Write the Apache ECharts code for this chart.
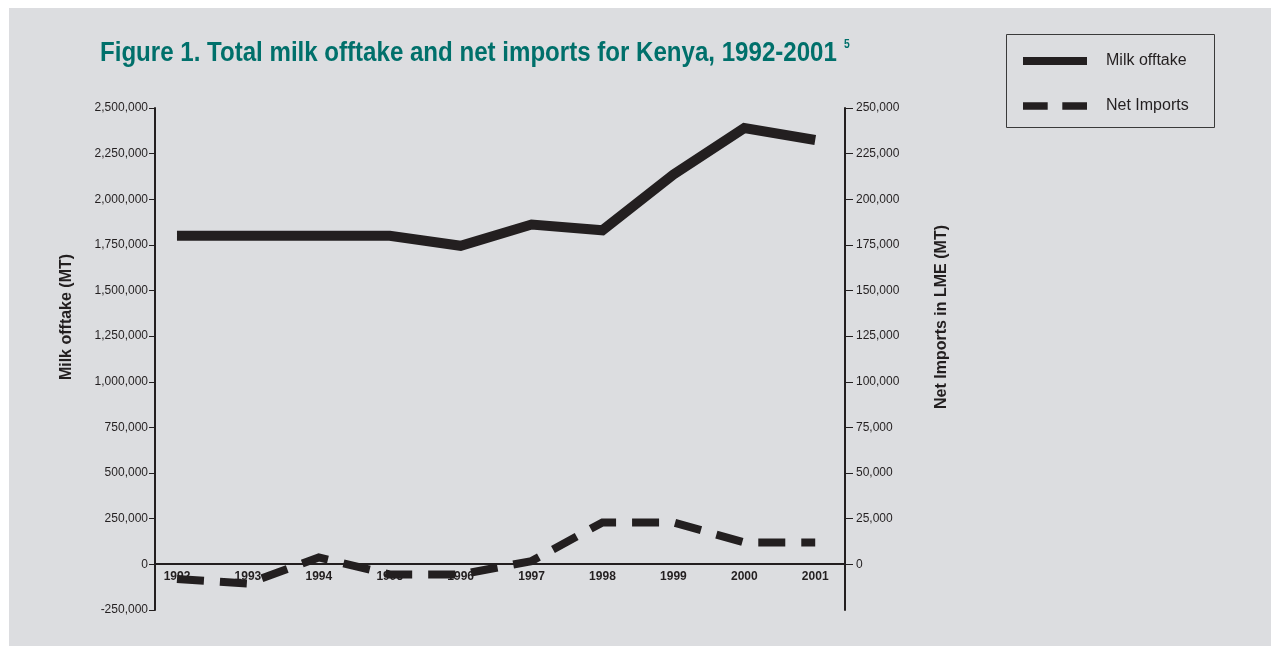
<!DOCTYPE html>
<html>
<head>
<meta charset="utf-8">
<title>Kenya milk offtake</title>
<script src="https://cdn.jsdelivr.net/npm/echarts@6/dist/echarts.min.js"></script>
<style>
  html, body { margin: 0; padding: 0; background: #ffffff; }
  #chart { width: 1271px; height: 646px; }
</style>
</head>
<body>
<div id="chart"></div>
<script>
// data
const years = [1992, 1993, 1994, 1995, 1996, 1997, 1998, 1999, 2000, 2001];
const milkOfftake = [1800000, 1800000, 1800000, 1800000, 1745000, 1862000, 1830000, 2135000, 2390000, 2325000];
const netImports = [-8000, -10500, 3800, -5500, -5500, 1800, 23000, 23000, 12000, 12000];
const leftTicks = [-250000, 0, 250000, 500000, 750000, 1000000, 1250000, 1500000, 1750000, 2000000, 2250000, 2500000];
const rightTicks = [0, 25000, 50000, 75000, 100000, 125000, 150000, 175000, 200000, 225000, 250000];

const ink = '#231f20';
const teal = '#00706b';
const fmt = (v) => Number(v).toLocaleString('en-US');

let chart = echarts.init(document.getElementById('chart'));

let option = {
  backgroundColor: 'transparent',
  animation: false,
  graphic: [
    {
      type: 'rect',
      z: -10,
      silent: true,
      shape: { x: 9, y: 8, width: 1262, height: 638 },
      style: { fill: '#dcdde0' },
    },
    {
      // title, squeezed to look like the narrow bold face of the original
      type: 'text',
      silent: true,
      x: 100,
      y: 39,
      scaleX: 0.86,
      style: {
        text: 'Figure 1. Total milk offtake and net imports for Kenya, 1992-2001',
        fontFamily: 'Liberation Sans, Arial',
        fontWeight: 'bold',
        fontSize: 28,
        fill: teal,
      },
    },
    {
      type: 'text',
      silent: true,
      x: 844,
      y: 39,
      scaleX: 0.86,
      style: {
        text: '5',
        fontFamily: 'Liberation Sans, Arial',
        fontWeight: 'bold',
        fontSize: 12,
        fill: teal,
      },
    },
    {
      type: 'rect',
      silent: true,
      shape: { x: 1006.5, y: 34.5, width: 208, height: 93 },
      style: { fill: 'none', stroke: '#3a3a3a', lineWidth: 1 },
    },
  ],
  legend: {
    orient: 'vertical',
    left: 1023,
    top: 53,
    padding: 0,
    itemWidth: 64,
    itemHeight: 8,
    itemGap: 29,
    textStyle: {
      fontFamily: 'Liberation Sans, Arial',
      fontSize: 16,
      color: ink,
      padding: [0, 0, 0, 14],
    },
    data: [
      { name: 'Milk offtake', icon: 'rect' },
      { name: 'Net Imports', icon: 'path://M0,0H27V8H0Z M43,0H70V8H43Z' },
    ],
  },
  grid: {
    left: 155,
    right: 426,
    top: 108,
    bottom: 36,
  },
  xAxis: {
    type: 'value',
    min: 1991.69,
    max: 2001.42,
    offset: -46, // sits on the zero line of the left axis
    splitLine: { show: false },
    axisTick: { show: false },
    axisLine: {
      onZero: false,
      lineStyle: { color: ink, width: 2 },
    },
    axisLabel: {
      customValues: years,
      formatter: (v) => String(v),
      fontFamily: 'Liberation Sans, Arial',
      fontWeight: 'bold',
      fontSize: 12,
      color: ink,
      margin: 7,
    },
  },
  yAxis: [
    {
      type: 'value',
      position: 'left',
      min: -250000,
      max: 2500000,
      interval: 250000,
      name: 'Milk offtake (MT)',
      nameLocation: 'middle',
      nameRotate: 90,
      nameGap: 80,
      nameTextStyle: {
        fontFamily: 'Liberation Sans, Arial',
        fontWeight: 'bold',
        fontSize: 16,
        color: ink,
        padding: [0, 0, 0, 84],
      },
      splitLine: { show: false },
      axisLine: { show: true, lineStyle: { color: ink, width: 2 } },
      axisTick: { show: true, length: 6, lineStyle: { color: ink, width: 1 } },
      axisLabel: {
        customValues: leftTicks,
        formatter: fmt,
        fontFamily: 'Liberation Sans, Arial',
        fontSize: 12,
        color: ink,
        margin: 7,
      },
    },
    {
      type: 'value',
      position: 'right',
      min: -25000,
      max: 250000,
      interval: 25000,
      name: 'Net Imports in LME (MT)',
      nameLocation: 'middle',
      nameRotate: 90,
      nameGap: 89,
      nameTextStyle: {
        fontFamily: 'Liberation Sans, Arial',
        fontWeight: 'bold',
        fontSize: 16,
        color: ink,
        padding: [0, 0, 0, 84],
      },
      splitLine: { show: false },
      axisLine: { show: true, lineStyle: { color: ink, width: 2 } },
      axisTick: { show: true, length: 8, customValues: rightTicks, lineStyle: { color: ink, width: 1 } },
      axisLabel: {
        customValues: rightTicks,
        formatter: fmt,
        fontFamily: 'Liberation Sans, Arial',
        fontSize: 12,
        color: ink,
        margin: 11,
      },
    },
  ],
  series: [
    {
      name: 'Milk offtake',
      type: 'line',
      yAxisIndex: 0,
      symbol: 'none',
      data: years.map((y, i) => [y, milkOfftake[i]]),
      itemStyle: { color: ink },
      lineStyle: { color: ink, width: 10, join: 'miter', cap: 'butt' },
      z: 5,
    },
    {
      name: 'Net Imports',
      type: 'line',
      yAxisIndex: 1,
      symbol: 'none',
      data: years.map((y, i) => [y, netImports[i]]),
      itemStyle: { color: ink },
      lineStyle: { color: ink, width: 8, type: [27, 16], join: 'miter', cap: 'butt' },
      z: 5,
    },
  ],
};

chart.setOption(option, true);
window.addEventListener('resize', function () {
  chart.resize();
});
</script>
</body>
</html>
